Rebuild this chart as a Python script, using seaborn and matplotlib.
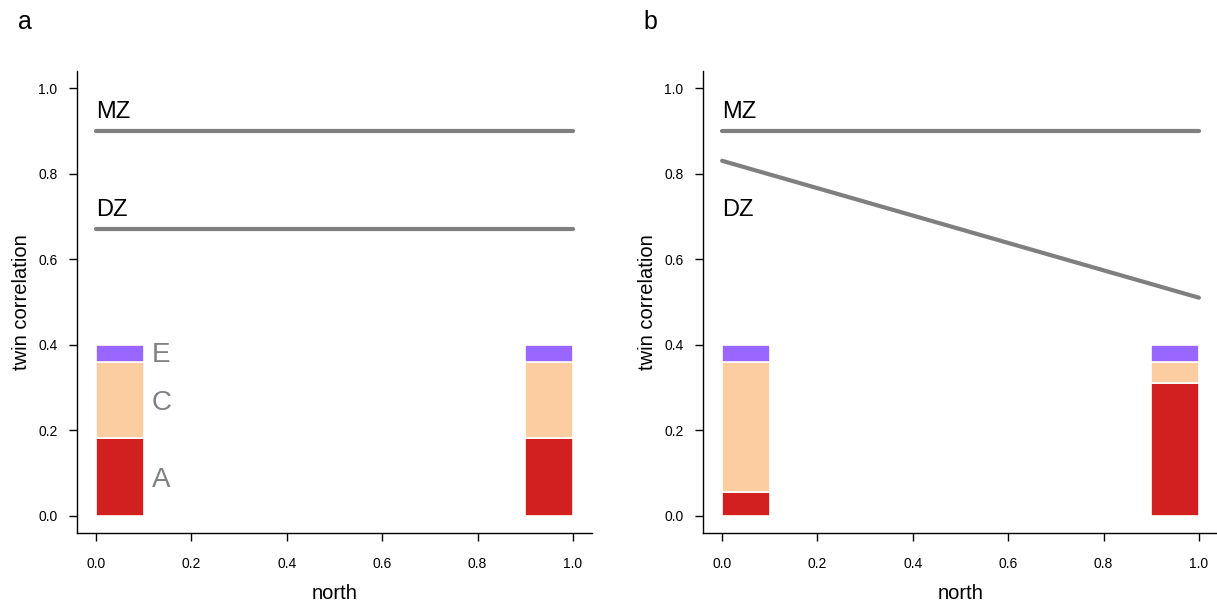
import numpy as np
import pandas as pd
import seaborn as sns
import matplotlib.pyplot as plt

sns.set_style('ticks')
plt.rcParams['font.family'] = ['Liberation Sans', 'DejaVu Sans']
plt.rcParams['text.color'] = 'black'
plt.rcParams['axes.labelcolor'] = 'black'
plt.rcParams['xtick.color'] = 'black'
plt.rcParams['ytick.color'] = 'black'

# twin correlations along the north gradient
north = [0.0, 1.0]
mz_a = [0.90, 0.90]
dz_a = [0.67, 0.67]
mz_b = [0.90, 0.90]
dz_b = [0.83, 0.51]

# variance components at each end (A, C, E stacked)
bar_x = [0.0, 0.9]
A_a = [0.183, 0.183]
C_a = [0.177, 0.177]
E_a = [0.040, 0.040]
A_b = [0.055, 0.311]
C_b = [0.305, 0.049]
E_b = [0.040, 0.040]

colors = {'A': '#D21F20', 'C': '#FCCDA0', 'E': '#9966FF'}
line_col = '#7F7F7F'

fig = plt.figure(figsize=(12.17, 6.06), dpi=100)
ax_a = fig.add_axes([0.0633, 0.1205, 0.4231, 0.7624])
ax_b = fig.add_axes([0.5777, 0.1205, 0.4231, 0.7624])


def draw_panel(ax, mz, dz, A, C, E, dz_label_y, letter, comp_labels):
    df = pd.DataFrame({'north': north * 2, 'r': mz + dz,
                       'pair': ['MZ'] * 2 + ['DZ'] * 2})
    sns.lineplot(data=df, x='north', y='r', units='pair', estimator=None,
                 color=line_col, lw=3, ax=ax)
    bottom = np.zeros(2)
    for key, vals in (('A', A), ('C', C), ('E', E)):
        ax.bar(bar_x, vals, width=0.1, bottom=bottom, align='edge',
               color=colors[key], edgecolor='white', linewidth=1.2)
        bottom = bottom + np.array(vals)
    ax.text(0.0, mz[0] + 0.044, 'MZ', fontsize=17, va='center', ha='left')
    ax.text(0.0, dz_label_y, 'DZ', fontsize=17, va='center', ha='left')
    if comp_labels:
        for lab, yy in (('E', 0.376), ('C', 0.264), ('A', 0.084)):
            ax.text(0.117, yy, lab, fontsize=20, color='#808080',
                    va='center', ha='left')
    ticks = np.arange(0, 1.01, 0.2)
    ax.set_xlim(-0.04, 1.04)
    ax.set_ylim(-0.04, 1.04)
    ax.set_xticks(ticks)
    ax.set_yticks(ticks)
    ax.set_xticklabels(['%.1f' % v for v in ticks])
    ax.set_yticklabels(['%.1f' % v for v in ticks])
    ax.tick_params(labelsize=10, length=6, width=1, pad=8)
    ax.tick_params(axis='x', pad=11)
    ax.set_xlabel('north', fontsize=14.5, labelpad=10)
    ax.set_ylabel('twin correlation', fontsize=14.5, labelpad=5)
    for s in ('top', 'right'):
        ax.spines[s].set_visible(False)
    for s in ('left', 'bottom'):
        ax.spines[s].set_color('black')
        ax.spines[s].set_linewidth(1)
    ax.text(-0.115, 1.105, letter, transform=ax.transAxes, fontsize=18,
            va='center', ha='left')


draw_panel(ax_a, mz_a, dz_a, A_a, C_a, E_a, 0.716, 'a', True)
draw_panel(ax_b, mz_b, dz_b, A_b, C_b, E_b, 0.714, 'b', False)

fig.savefig('out.png', dpi=100)
